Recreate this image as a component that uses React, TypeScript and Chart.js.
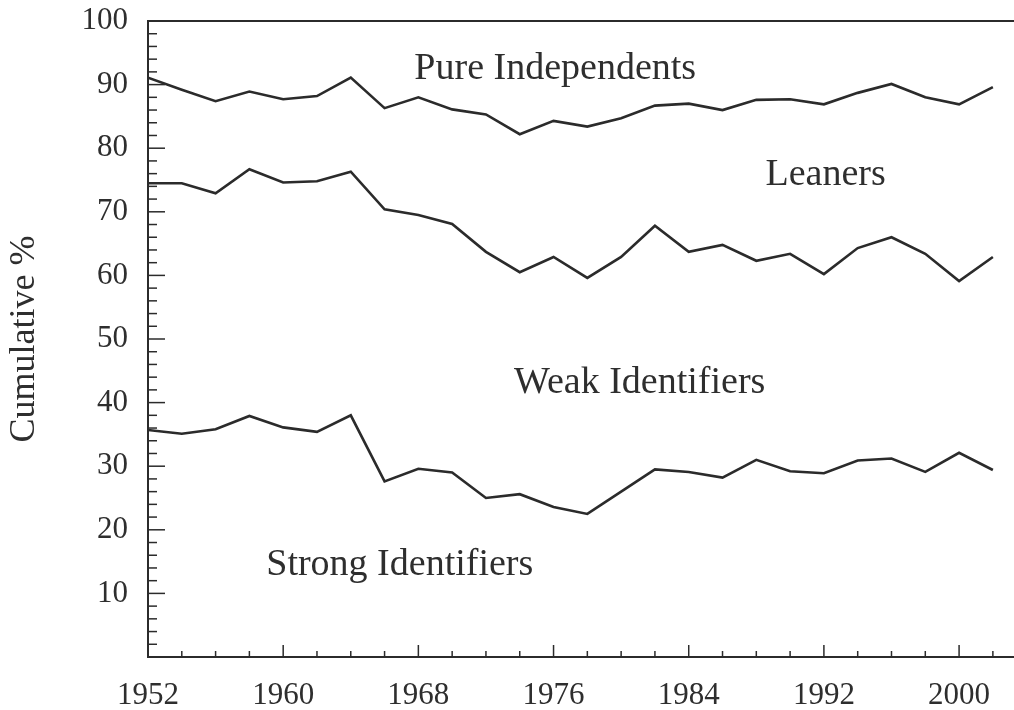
import React, { useEffect, useRef } from "react";
import { Chart, registerables } from "chart.js";

Chart.register(...registerables);

const years = [
  1952, 1954, 1956, 1958, 1960, 1962, 1964, 1966, 1968, 1970, 1972, 1974, 1976,
  1978, 1980, 1982, 1984, 1986, 1988, 1990, 1992, 1994, 1996, 1998, 2000, 2002,
];

// Cumulative % — strong identifiers
const strongCum = [
  35.7, 35.1, 35.8, 37.9, 36.1, 35.4, 38.0, 27.6, 29.6, 29.0, 25.0, 25.6, 23.6,
  22.5, 26.0, 29.5, 29.1, 28.2, 31.0, 29.2, 28.9, 30.9, 31.2, 29.1, 32.1, 29.4,
];

// Cumulative % — strong + weak identifiers
const weakCum = [
  74.5, 74.5, 72.9, 76.7, 74.6, 74.8, 76.3, 70.4, 69.5, 68.1, 63.7, 60.5, 62.9,
  59.6, 62.9, 67.8, 63.7, 64.8, 62.3, 63.4, 60.2, 64.3, 66.0, 63.4, 59.1, 62.9,
];

// Cumulative % — strong + weak identifiers + leaners
const leanerCum = [
  91.1, 89.2, 87.4, 88.9, 87.7, 88.2, 91.1, 86.3, 88.0, 86.1, 85.3, 82.2, 84.3,
  83.4, 84.7, 86.7, 87.0, 86.0, 87.6, 87.7, 86.9, 88.7, 90.1, 88.0, 86.9, 89.6,
];

const xTickLabels = [1952, 1960, 1968, 1976, 1984, 1992, 2000];
const yTickLabels = [10, 20, 30, 40, 50, 60, 70, 80, 90, 100];

const regionNames = ["Pure Independents", "Leaners", "Weak Identifiers", "Strong Identifiers"];
const regionLabelYears = [1976.1, 1992.1, 1981.1, 1966.9];
const regionLabelValues = [90.9, 74.2, 41.5, 12.9];

const INK = "#2b2b2b";
const TEXT = "#2e2e2e";
const SERIF = '"Liberation Serif", "DejaVu Serif", serif';

const frame = {
  id: "frame",
  afterDraw(chart: any) {
    const { ctx, chartArea, scales } = chart;
    const x = scales.x;
    const y = scales.y;
    ctx.save();
    ctx.strokeStyle = INK;
    ctx.lineWidth = 2;
    // top border
    ctx.beginPath();
    ctx.moveTo(chartArea.left, chartArea.top);
    ctx.lineTo(chartArea.right, chartArea.top);
    ctx.stroke();
    // inward ticks on y axis
    ctx.lineWidth = 1.5;
    for (let v = 2; v < 100; v += 2) {
      const py = y.getPixelForValue(v);
      const len = v % 10 === 0 ? 17 : 9;
      ctx.beginPath();
      ctx.moveTo(chartArea.left, py);
      ctx.lineTo(chartArea.left + len, py);
      ctx.stroke();
    }
    // inward ticks on x axis
    for (let yr = 1954; yr <= x.max; yr += 2) {
      const px = x.getPixelForValue(yr);
      const len = (yr - 1952) % 8 === 0 ? 12 : 6;
      ctx.beginPath();
      ctx.moveTo(px, chartArea.bottom);
      ctx.lineTo(px, chartArea.bottom - len);
      ctx.stroke();
    }
    // region labels
    ctx.fillStyle = TEXT;
    ctx.font = `38px ${SERIF}`;
    ctx.textAlign = "center";
    ctx.textBaseline = "alphabetic";
    regionNames.forEach((name, i) => {
      ctx.fillText(
        name,
        x.getPixelForValue(regionLabelYears[i]),
        y.getPixelForValue(regionLabelValues[i])
      );
    });
    ctx.restore();
  },
};

export default function App() {
  const ref = useRef<HTMLCanvasElement | null>(null);

  useEffect(() => {
    if (!ref.current) return;
    const mk = (vals: number[]) => years.map((yr, i) => ({ x: yr, y: vals[i] }));
    const ds = (label: string, vals: number[]) => ({
      label,
      data: mk(vals),
      borderColor: INK,
      borderWidth: 2.6,
      pointRadius: 0,
      tension: 0,
      fill: false,
    });
    const chart = new Chart(ref.current, {
      type: "line",
      data: {
        datasets: [
          ds("Strong Identifiers", strongCum),
          ds("Weak Identifiers", weakCum),
          ds("Leaners", leanerCum),
        ],
      },
      options: {
        animation: false,
        responsive: true,
        maintainAspectRatio: false,
        layout: { padding: { top: 21, right: 0, left: 0, bottom: 0 } },
        plugins: { legend: { display: false }, tooltip: { enabled: false } },
        scales: {
          x: {
            type: "linear",
            min: 1952,
            max: 2003.25,
            grid: { display: false, drawTicks: false },
            border: { display: true, color: INK, width: 2 },
            afterBuildTicks: (s: any) => {
              s.ticks = xTickLabels.map((v) => ({ value: v }));
            },
            afterFit: (s: any) => {
              s.height = 53;
              s.paddingLeft = 0;
              s.paddingRight = 0;
            },
            ticks: {
              autoSkip: false,
              maxRotation: 0,
              padding: 20,
              color: TEXT,
              font: { family: SERIF, size: 31 },
              callback: (v: any) => String(v),
            },
          },
          y: {
            type: "linear",
            min: 0,
            max: 100,
            grid: { display: false, drawTicks: false },
            border: { display: true, color: INK, width: 2 },
            afterBuildTicks: (s: any) => {
              s.ticks = yTickLabels.map((v) => ({ value: v }));
            },
            afterFit: (s: any) => {
              s.width = 148;
              s.paddingTop = 0;
              s.paddingBottom = 0;
            },
            ticks: {
              padding: 20,
              color: TEXT,
              font: { family: SERIF, size: 31 },
              callback: (v: any) => String(v),
            },
            title: {
              display: true,
              text: "Cumulative %",
              color: TEXT,
              font: { family: SERIF, size: 36 },
              padding: { top: 3, bottom: 0 },
            },
          },
        },
      },
      plugins: [frame],
    });
    return () => chart.destroy();
  }, []);

  return (
    <div style={{ position: "absolute", left: 0, top: 0, width: 1014, height: 710, background: "#fff" }}>
      <canvas ref={ref} />
    </div>
  );
}
